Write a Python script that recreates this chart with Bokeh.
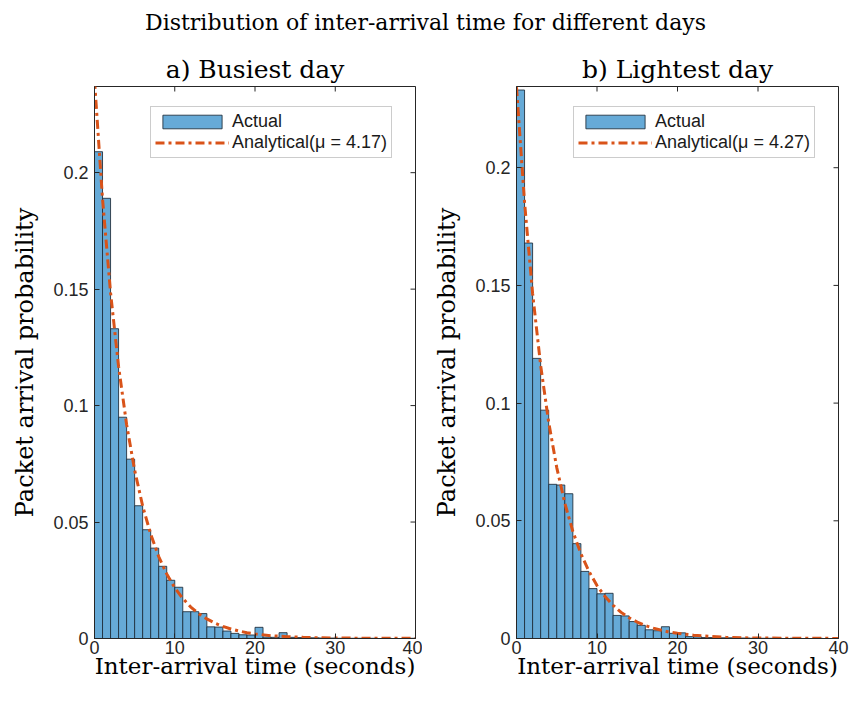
import math
from bokeh.plotting import figure
from bokeh.layouts import column, row
from bokeh.models import FixedTicker, Legend, LegendItem, Range1d
from bokeh.core.properties import value
from bokeh.embed import file_html
from bokeh.resources import INLINE

# ---------------- data ----------------
bin_edges = list(range(0, 41))          # 1-second bins, 0..40 s

busiest_prob = [0.209, 0.189, 0.133, 0.095, 0.077, 0.057, 0.0467, 0.0388, 0.031, 0.025,
                0.022, 0.0115, 0.0115, 0.0107, 0.0050, 0.0049, 0.0032, 0.0022, 0.0016, 0.0015,
                0.0048, 0.0006, 0.0005, 0.0025, 0.0005, 0.0004, 0.0003, 0.0003, 0.0002, 0.0002,
                0.0001, 0.0001, 0.0001, 0.0001, 0.0001, 0.0, 0.0001, 0.0, 0.0, 0.0001]

lightest_prob = [0.233, 0.168, 0.119, 0.097, 0.0655, 0.0652, 0.0615, 0.0403, 0.0285, 0.0212,
                 0.0190, 0.0192, 0.0098, 0.0096, 0.0072, 0.0056, 0.0037, 0.0033, 0.0050, 0.0022,
                 0.0024, 0.0008, 0.0007, 0.0004, 0.0004, 0.0003, 0.0003, 0.0002, 0.0002, 0.0001,
                 0.0001, 0.0001, 0.0001, 0.0, 0.0001, 0.0, 0.0, 0.0001, 0.0, 0.0]

curve_x = [0, 1, 2, 3, 4, 5, 6, 7, 8, 9, 10, 11, 12, 13, 14, 15, 16, 17, 18, 19, 20,
           22, 24, 26, 28, 30, 35, 40]
busiest_curve = [0.2398, 0.1887, 0.1485, 0.1168, 0.0919, 0.0723, 0.0569, 0.0448, 0.0352, 0.0277,
                 0.0218, 0.0172, 0.0135, 0.0106, 0.0084, 0.0066, 0.0052, 0.0041, 0.0032, 0.0025,
                 0.0020, 0.0012, 0.0008, 0.0005, 0.0003, 0.0002, 0.0001, 0.00005]
lightest_curve = [0.2342, 0.1853, 0.1466, 0.1160, 0.0918, 0.0726, 0.0575, 0.0455, 0.0360, 0.0285,
                  0.0225, 0.0178, 0.0141, 0.0111, 0.0088, 0.0070, 0.0055, 0.0044, 0.0035, 0.0027,
                  0.0022, 0.0014, 0.0009, 0.0005, 0.0003, 0.0002, 0.0001, 0.00004]

busiest_ymax = 0.237
lightest_ymax = 0.2345

x_ticks = [0, 10, 20, 30, 40]
y_ticks = [0, 0.05, 0.1, 0.15, 0.2]
y_tick_labels = ["0", "0.05", "0.1", "0.15", "0.2"]

suptitle = "Distribution of inter-arrival time for different days"
titles = ["a) Busiest day", "b) Lightest day"]
legend_labels = ["Actual", "Analytical(\u03bc = 4.17)", "Analytical(\u03bc = 4.27)"]
x_label = "Inter-arrival time (seconds)"
y_label = "Packet arrival probability"

# ---------------- styles ----------------
SERIF = "DejaVu Serif"
SANS = "Liberation Sans"
AX = "#262626"
BAR_FILL = "#66aad7"
BAR_LINE = "#1d2b38"
CURVE = "#d95319"


def make_panel(title, prob, curve, ymax, mu_label, border_left, frame_w, border_right, legend_xy):
    p = figure(width=border_left + frame_w + border_right, height=654,
               x_range=Range1d(0, 40), y_range=Range1d(0, ymax),
               toolbar_location=None, output_backend="svg",
               min_border_left=border_left, min_border_right=border_right,
               min_border_top=42, min_border_bottom=60)
    p.background_fill_color = "white"
    p.border_fill_color = "white"
    p.outline_line_color = AX
    p.outline_line_width = 1
    p.xgrid.visible = False
    p.ygrid.visible = False

    p.title.text = title
    p.title.align = "center"
    p.title.text_font = SERIF
    p.title.text_font_size = "25px"
    p.title.text_font_style = "normal"
    p.title.text_color = "black"
    p.title.standoff = 5

    bars = p.quad(left=bin_edges[:-1], right=bin_edges[1:], bottom=0, top=prob,
                  fill_color=BAR_FILL, line_color=BAR_LINE, line_width=1, line_alpha=0.85)
    line = p.line(curve_x, curve, line_color=CURVE, line_width=3, line_dash="9 4 3 4")

    for ax, ticks in ((p.xaxis[0], x_ticks), (p.yaxis[0], y_ticks)):
        ax.ticker = FixedTicker(ticks=ticks)
        ax.axis_line_color = AX
        ax.major_tick_line_color = AX
        ax.major_tick_in = 5
        ax.major_tick_out = 0
        ax.minor_tick_line_color = None
        ax.major_label_text_font = SANS
        ax.major_label_text_font_size = "18px"
        ax.major_label_text_color = AX
        ax.axis_label_text_font = SERIF
        ax.axis_label_text_font_style = "normal"
        ax.axis_label_text_color = "black"
    p.yaxis[0].major_label_overrides = {t: s for t, s in zip(y_ticks, y_tick_labels)}
    p.xaxis[0].axis_label = x_label
    p.yaxis[0].axis_label = y_label
    p.xaxis[0].axis_label_text_font_size = "23px"
    p.yaxis[0].axis_label_text_font_size = "24px"
    p.xaxis[0].major_label_standoff = 2
    p.yaxis[0].major_label_standoff = 6
    p.xaxis[0].axis_label_standoff = -4
    p.yaxis[0].axis_label_standoff = 11

    # mirrored tick marks on the top and right edges of the box (clipped to the frame)
    p.scatter(x=[x_ticks[-1]] * len(y_ticks), y=y_ticks, marker="dash", size=10,
              line_color=AX, line_width=1)
    p.scatter(x=x_ticks, y=[ymax] * len(x_ticks), marker="dash", size=10, angle=math.pi / 2,
              line_color=AX, line_width=1)

    legend = Legend(items=[LegendItem(label=legend_labels[0], renderers=[bars]),
                           LegendItem(label=mu_label, renderers=[line])],
                    location=legend_xy)
    legend.label_text_font = SANS
    legend.label_text_font_size = "18px"
    legend.label_text_color = "#1a1a1a"
    legend.glyph_width = 74
    legend.glyph_height = 17
    legend.label_standoff = 3
    legend.label_height = 18
    legend.spacing = 0
    legend.padding = 4
    legend.margin = 0
    legend.border_line_color = "#999999"
    legend.border_line_width = 1
    legend.background_fill_color = "white"
    legend.background_fill_alpha = 1
    p.add_layout(legend, "center")
    return p


p1 = make_panel(titles[0], busiest_prob, busiest_curve, busiest_ymax, legend_labels[1],
                94, 321, 7, (56, 480))
p2 = make_panel(titles[1], lightest_prob, lightest_curve, lightest_ymax, legend_labels[2],
                94, 322, 12, (57, 480))

top = figure(width=850, height=44, x_range=Range1d(0, 1), y_range=Range1d(0, 1),
             toolbar_location=None, output_backend="svg",
             min_border=0)
top.axis.visible = False
top.xgrid.visible = False
top.ygrid.visible = False
top.outline_line_color = None
top.text(x=[0.5], y=[0.5], text=[suptitle], text_align="center", text_baseline="middle",
         text_font=value(SERIF), text_font_size="22px", text_color="black")

layout = column(top, row(p1, p2, spacing=0), spacing=0)

open("out.html", "w").write(file_html(layout, INLINE))
